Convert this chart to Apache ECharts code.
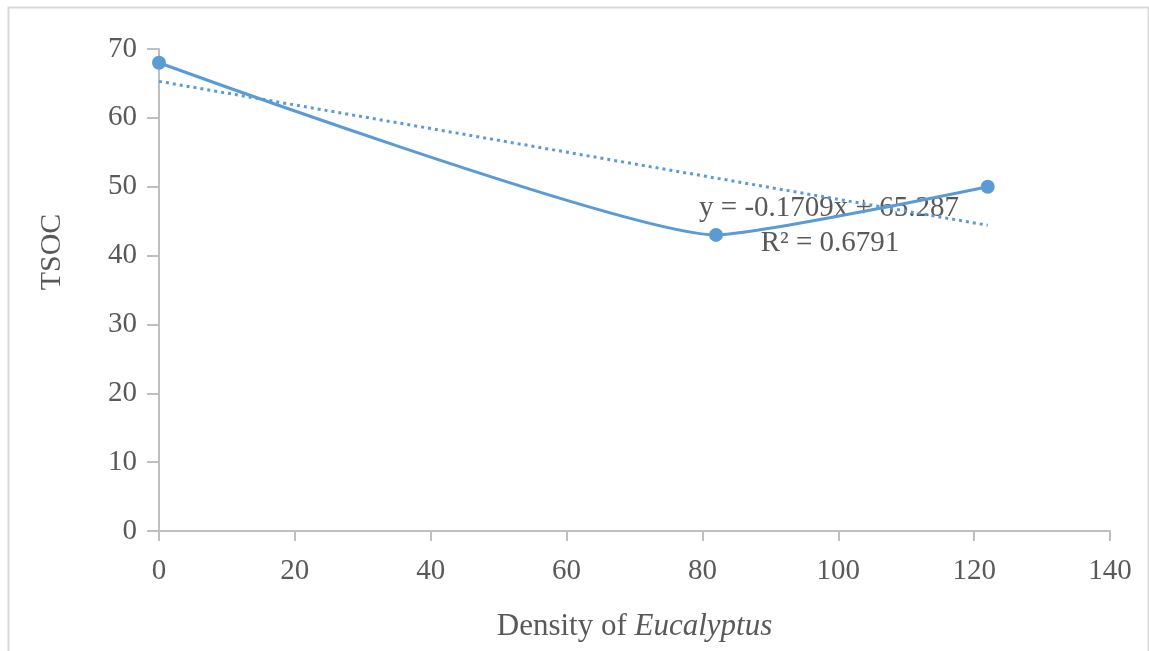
<!DOCTYPE html>
<html lang="en">
<head>
    <meta charset="UTF-8">
    <title>TSOC vs Density of Eucalyptus</title>
    <script src="https://cdn.jsdelivr.net/npm/echarts@6/dist/echarts.min.js"></script>
    <style>
        html, body { margin: 0; padding: 0; background: #fff; }
        #chart { width: 1149px; height: 651px; }
    </style>
</head>
<body>
    <div id="chart"></div>
<script>
    // 数据
    var density = [0, 82, 122];
    var tsoc = [68, 43, 50];
    var trendX = [0, 122];
    var trendY = [65.3, 44.4];
    var eqText = 'y = -0.1709x + 65.287';
    var r2Text = 'R² = 0.6791';

    var FONT = '"Liberation Serif", "Times New Roman", serif';
    var TXT = '#595959';
    var AXIS = '#bfbfbf';
    var BLUE = '#5b9bd5';

    var myChart = echarts.init(document.getElementById('chart'));

    var option = {
        backgroundColor: '#fff',
        animation: false,
        textStyle: { fontFamily: FONT },
        grid: { left: 159, right: 39, top: 49, bottom: 120 },
        xAxis: {
            type: 'value',
            min: 0, max: 140, interval: 20,
            splitLine: { show: false },
            axisLine: { lineStyle: { color: AXIS, width: 2 } },
            axisTick: { length: 10, lineStyle: { color: AXIS, width: 2 } },
            axisLabel: { color: TXT, fontSize: 29, fontFamily: FONT, margin: 26 },
            name: 'Density of {i|Eucalyptus}',
            nameLocation: 'middle',
            nameGap: 80,
            nameTextStyle: {
                color: TXT, fontSize: 31, fontFamily: FONT,
                rich: { i: { color: TXT, fontSize: 31, fontFamily: FONT, fontStyle: 'italic' } }
            }
        },
        yAxis: {
            type: 'value',
            min: 0, max: 70, interval: 10,
            splitLine: { show: false },
            axisLine: { show: true, lineStyle: { color: AXIS, width: 2 } },
            axisTick: { show: true, length: 12, lineStyle: { color: AXIS, width: 2 } },
            axisLabel: { color: TXT, fontSize: 29, fontFamily: FONT, margin: 22 }
        },
        graphic: [
            {
                type: 'rect', left: 6, top: 5, silent: true,
                shape: { width: 1140, height: 660 },
                style: { fill: 'none', stroke: '#d9d9d9', lineWidth: 2 }
            },
            {
                type: 'text', x: 52, y: 252, rotation: Math.PI / 2,
                style: { text: 'TSOC', fill: TXT, font: '30px ' + FONT, textAlign: 'center', textVerticalAlign: 'middle' }
            },
            {
                type: 'text', x: 829, y: 208,
                style: { text: eqText, fill: TXT, font: '29px ' + FONT, textAlign: 'center', textVerticalAlign: 'middle' }
            },
            {
                type: 'text', x: 830, y: 243,
                style: { text: r2Text, fill: TXT, font: '29px ' + FONT, textAlign: 'center', textVerticalAlign: 'middle' }
            }
        ],
        series: [
            {
                name: 'TSOC',
                type: 'line',
                smooth: 0.15,
                data: density.map(function (d, i) { return [d, tsoc[i]]; }),
                symbol: 'circle',
                symbolSize: 14,
                lineStyle: { color: BLUE, width: 3 },
                itemStyle: { color: BLUE },
                z: 3
            },
            {
                name: 'Linear',
                type: 'line',
                data: trendX.map(function (d, i) { return [d, trendY[i]]; }),
                symbol: 'none',
                lineStyle: { color: BLUE, width: 3, type: [3, 4] },
                z: 2
            }
        ]
    };
    myChart.setOption(option);
</script>
</body>
</html>
